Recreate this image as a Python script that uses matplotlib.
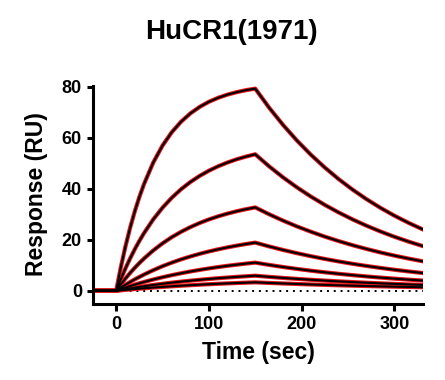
import matplotlib.pyplot as plt

plt.rcParams['font.family'] = ['Liberation Sans', 'DejaVu Sans']
plt.rcParams['font.weight'] = 'bold'

# sample times (sec): baseline, association (0-150), dissociation (150-330)
time = [-25, 0, 5, 10, 15, 20, 25, 30, 40, 50, 60, 70, 80, 90, 100, 110, 120, 130, 140, 150,
        165, 180, 195, 210, 225, 240, 255, 270, 285, 300, 315, 330]

# response (RU) per analyte concentration, highest first
resp_1 = [0, 0, 9.22, 17.39, 24.64, 31.07, 36.77, 41.82, 50.29, 56.95, 62.19, 66.30, 69.55, 72.10,
          74.11, 75.68, 76.92, 77.89, 78.67, 79.27,
          71.80, 65.04, 58.91, 53.36, 48.34, 43.78, 39.66, 35.92, 32.54, 29.47, 26.70, 24.18]
resp_2 = [0, 0, 4.57, 8.78, 12.66, 16.24, 19.55, 22.59, 28.00, 32.58, 36.49, 39.82, 42.64, 45.04,
          47.08, 48.82, 50.30, 51.56, 52.62, 53.53,
          48.79, 44.47, 40.54, 36.95, 33.68, 30.70, 27.98, 25.51, 23.25, 21.19, 19.32, 17.61]
resp_3 = [0, 0, 2.48, 4.80, 6.97, 8.99, 10.87, 12.63, 15.82, 18.59, 21.02, 23.12, 24.96, 26.57,
          27.97, 29.19, 30.25, 31.18, 31.99, 32.69,
          29.99, 27.51, 25.23, 23.15, 21.23, 19.48, 17.87, 16.39, 15.03, 13.79, 12.65, 11.60]
resp_4 = [0, 0, 1.20, 2.34, 3.42, 4.45, 5.42, 6.35, 8.07, 9.63, 11.03, 12.30, 13.44, 14.48,
          15.41, 16.25, 17.01, 17.70, 18.32, 18.88,
          17.38, 16.00, 14.73, 13.56, 12.48, 11.49, 10.57, 9.73, 8.96, 8.25, 7.59, 6.99]
resp_5 = [0, 0, 0.64, 1.25, 1.83, 2.39, 2.93, 3.44, 4.41, 5.30, 6.11, 6.86, 7.55, 8.18,
          8.76, 9.29, 9.78, 10.23, 10.65, 11.03,
          10.14, 9.32, 8.57, 7.87, 7.24, 6.65, 6.12, 5.62, 5.17, 4.75, 4.37, 4.01]
resp_6 = [0, 0, 0.32, 0.64, 0.93, 1.22, 1.50, 1.77, 2.27, 2.74, 3.18, 3.58, 3.95, 4.30,
          4.62, 4.92, 5.19, 5.45, 5.68, 5.90,
          5.45, 5.04, 4.66, 4.31, 3.99, 3.68, 3.41, 3.15, 2.91, 2.69, 2.49, 2.30]
resp_7 = [0, 0, 0.18, 0.35, 0.51, 0.67, 0.82, 0.97, 1.25, 1.51, 1.75, 1.97, 2.18, 2.38,
          2.56, 2.73, 2.89, 3.04, 3.17, 3.30,
          3.07, 2.86, 2.66, 2.47, 2.30, 2.14, 1.99, 1.85, 1.72, 1.60, 1.49, 1.39]

curves = [resp_1, resp_2, resp_3, resp_4, resp_5, resp_6, resp_7]

fig = plt.figure(figsize=(4.45, 3.8), dpi=100)
ax = fig.add_axes([0.209, 0.2013, 0.7416, 0.5737])

# measured data (red) with the fitted model (black) on top
for r in curves:
    ax.plot(time, r, color='#e8141b', lw=3.0, solid_joinstyle='round', zorder=2)
for r in curves:
    ax.plot(time, r, color='black', lw=1.5, solid_joinstyle='round', zorder=3)

ax.plot([0, 331], [0, 0], color='black', lw=1.4, linestyle=(0, (1, 2.5)), zorder=1)

ax.set_xlim(-25, 331)
ax.set_ylim(-5, 80.5)
ax.set_xticks([0, 100, 200, 300])
ax.set_yticks([0, 20, 40, 60, 80])

for side in ['top', 'right']:
    ax.spines[side].set_visible(False)
for side in ['left', 'bottom']:
    ax.spines[side].set_linewidth(2.2)
ax.tick_params(axis='both', width=2.2, labelsize=13)
ax.tick_params(axis='x', length=5, pad=4)
ax.tick_params(axis='y', length=4, pad=4)

ax.set_xlabel('Time (sec)', fontsize=16.5, fontweight='bold', labelpad=6)
ax.set_ylabel('Response (RU)', fontsize=16.5, fontweight='bold', labelpad=10)

fig.text(0.519, 0.916, 'HuCR1(1971)', fontsize=20, fontweight='bold', ha='center', va='center')

plt.savefig('out.png', dpi=100)
